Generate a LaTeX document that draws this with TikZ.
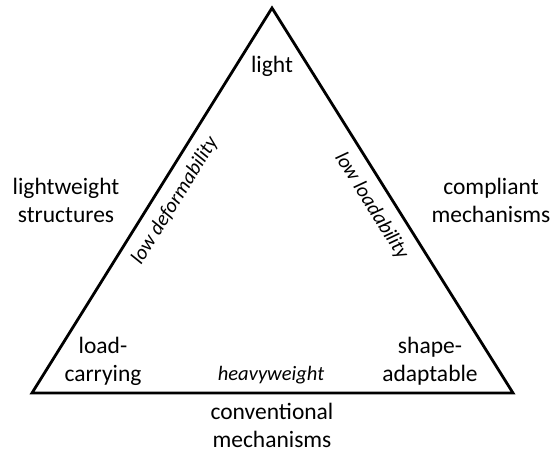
\documentclass[tikz,border=0pt]{standalone}
\usepackage{fontspec}
\setmainfont{Carlito}
\begin{document}
\begin{tikzpicture}[x=1pt,y=-1pt,
  lbl/.style={font=\fontsize{23.5}{28.5}\selectfont, align=center, inner sep=0pt, anchor=base},
  ital/.style={font=\fontsize{20.5}{24}\selectfont\itshape, inner sep=0pt}]
\useasboundingbox (0,0) rectangle (555,454);
\coordinate (A) at (272,8);
\coordinate (L) at (32,393);
\coordinate (R) at (513,393);
\draw[line width=2.8pt, line join=miter] (A) -- (L) -- (R) -- cycle;
\node[lbl] (light) at (272,73) {light};
\node[lbl] (lws) at (66,223) {lightweight\\structures};
\node[lbl] (cm) at (491,223) {compliant\\mechanisms};
\node[lbl] (lc) at (103,382) {load-\\carrying};
\node[lbl] (sa) at (430,382) {shape-\\adaptable};
\node[lbl] (conv) at (272,448) {conventional\\mechanisms};
\node[ital, anchor=base] (hw) at (271,381) {heavyweight};
\node[ital, rotate=58.06] (ld) at (175,201) {low deformability};
\node[ital, rotate=-58.06] (ll) at (371.5,206) {low loadability};
\end{tikzpicture}
\end{document}
